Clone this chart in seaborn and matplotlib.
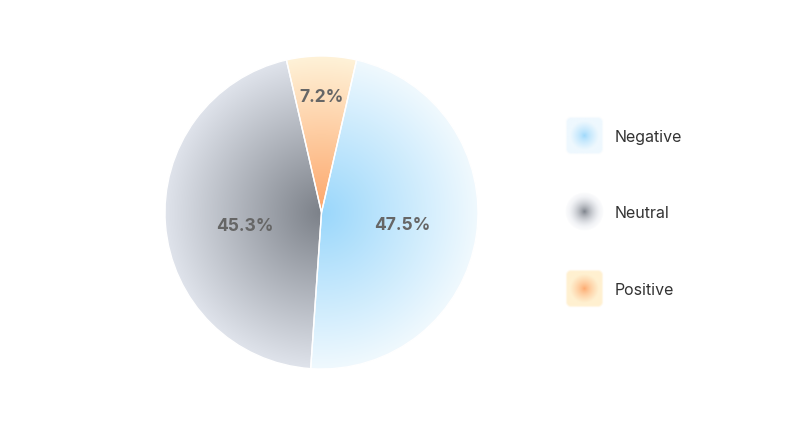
import numpy as np
import matplotlib
matplotlib.use("Agg")
import matplotlib.pyplot as plt
import seaborn as sns
from matplotlib.colors import LinearSegmentedColormap, to_rgb
from matplotlib.legend_handler import HandlerBase
from matplotlib.image import BboxImage
from matplotlib.transforms import Bbox, TransformedBbox

# data
labels = ["Negative", "Neutral", "Positive"]
shares = [47.5, 45.3, 7.2]

# style: centre colour -> rim colour for each slice
centre_colors = ["#9ad7fb", "#7c8189", "#fda66a"]
rim_colors = ["#f0f9fe", "#dfe3eb", "#fff2d8"]
legend_rims = ["#eef8fe", "#e2e5ec", "#fff0d0"]
legend_round = [False, True, False]
label_radius = [0.52, 0.49, 0.74]
label_nudge = [0.0, -0.045, 0.0]

sns.set_theme(style="white")
plt.rcParams["font.family"] = ["Inter", "DejaVu Sans"]

fig = plt.figure(figsize=(7.93, 4.27), dpi=100)
ax = fig.add_axes([165 / 793, 57 / 427, 313 / 793, 313 / 427])

start = 90 - shares[2] / sum(shares) * 360 / 2
wedges, texts, autotexts = ax.pie(
    shares, startangle=start, counterclock=False,
    autopct="%.1f%%", pctdistance=0.5,
    wedgeprops=dict(edgecolor="white", linewidth=1.0),
    textprops=dict(color="#666666", fontsize=12.5, fontweight="bold"),
)

# radial gradient fill clipped to each wedge
xx, yy = np.meshgrid(np.linspace(-1, 1, 600), np.linspace(-1, 1, 600))
rr = np.clip(np.sqrt(xx ** 2 + yy ** 2), 0, 1)
for w, c0, c1 in zip(wedges, centre_colors, rim_colors):
    w.set_facecolor("none")
    cmap = LinearSegmentedColormap.from_list("g", [c0, c1])
    im = ax.imshow(rr, cmap=cmap, extent=[-1, 1, -1, 1], origin="lower",
                   vmin=0, vmax=1, zorder=0.5, interpolation="bilinear")
    im.set_clip_path(w)
    w.set_zorder(1)

for w, t, r, dy in zip(wedges, autotexts, label_radius, label_nudge):
    mid = np.deg2rad((w.theta1 + w.theta2) / 2)
    t.set_position((r * np.cos(mid), r * np.sin(mid) + dy))
    t.set_zorder(3)

ax.set_xlim(-1, 1)
ax.set_ylim(-1, 1)
ax.axis("off")


# legend with soft glowing markers
class Glow:
    def __init__(self, c0, c1, round_):
        self.c0, self.c1 = np.array(to_rgb(c0)), np.array(to_rgb(c1))
        self.round = round_


class GlowHandler(HandlerBase):
    def create_artists(self, legend, h, xdescent, ydescent, width, height,
                       fontsize, trans):
        n = 64
        g = np.linspace(-1, 1, n)
        gx, gy = np.meshgrid(g, g)
        r = np.sqrt(gx ** 2 + gy ** 2)
        if h.round:
            t = np.clip(r / 0.8, 0, 1) ** 0.8
            alpha = np.clip(1 - r, 0, 1) ** 0.6
        else:
            t = np.clip(r / 0.75, 0, 1) ** 0.7
            # rounded square with soft border
            q = np.maximum(np.abs(gx), np.abs(gy))
            corner = np.sqrt(np.clip(np.abs(gx) - 0.7, 0, None) ** 2 +
                             np.clip(np.abs(gy) - 0.7, 0, None) ** 2)
            edge = np.where(corner > 0, 0.7 + corner, q)
            alpha = np.clip((1.0 - edge) / 0.12, 0, 1)
        rgb = h.c0 * (1 - t)[..., None] + h.c1 * t[..., None]
        img = np.dstack([rgb, alpha])
        s = 28
        cx = -xdescent + width / 2
        cy = -ydescent + height / 2
        bb = TransformedBbox(Bbox.from_bounds(cx - s / 2, cy - s / 2, s, s), trans)
        bi = BboxImage(bb, interpolation="bilinear")
        bi.set_data(img)
        return [bi]


handles = [Glow(c0, c1, rd) for c0, c1, rd in zip(centre_colors, legend_rims, legend_round)]
fig.legend(handles, labels, handler_map={Glow: GlowHandler()},
           loc="center left", bbox_to_anchor=(565 / 793, 1 - 214 / 427),
           frameon=False, fontsize=11.5, labelcolor="#333333",
           borderpad=0, borderaxespad=0,
           handlelength=2.4, handletextpad=0.72, labelspacing=3.85)

fig.savefig("out.png", dpi=100)
